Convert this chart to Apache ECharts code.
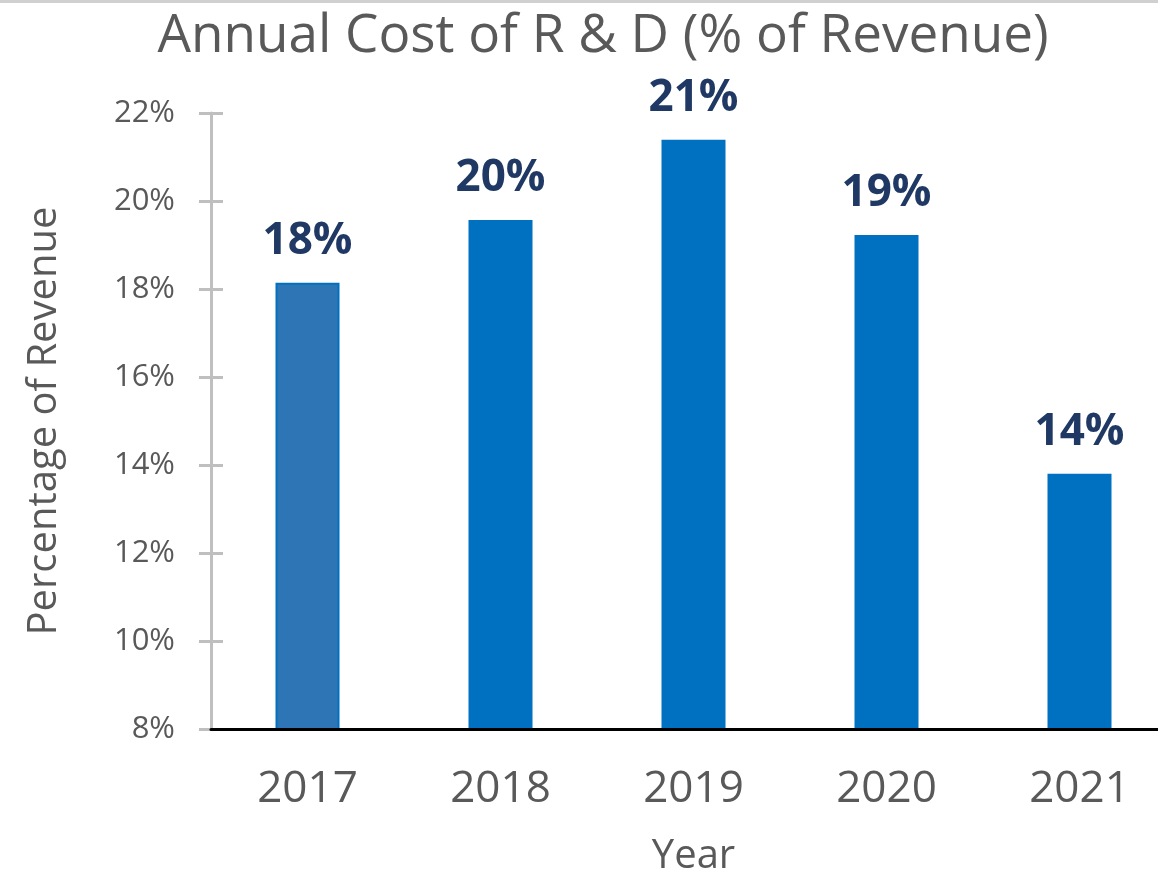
<!DOCTYPE html>
<html>
<head>
<meta charset="utf-8">
<title>Annual Cost of R & D</title>
<style>
  html, body { margin: 0; padding: 0; background: #fff; }
  #chart { width: 1158px; height: 873px; }
</style>
</head>
<body>
<div id="chart"></div>
<script src="https://cdn.jsdelivr.net/npm/echarts@6/dist/echarts.min.js"></script>
<script>
// data
var years = ['2017', '2018', '2019', '2020', '2021'];
var rdShare = [18.14, 19.57, 21.39, 19.23, 13.8];
var barColors = ['#2E75B6', '#0070C0', '#0070C0', '#0070C0', '#0070C0'];

var font = '"Open Sans", "Noto Sans", sans-serif';
var grey = '#595959';

var chart = echarts.init(document.getElementById('chart'));

var option = {
    animation: false,
    textStyle: { fontFamily: font },
    title: {
        text: 'Annual Cost of R & D (% of Revenue)',
        left: 598,
        textAlign: 'center',
        top: 5,
        textStyle: { fontFamily: font, fontSize: 53, fontWeight: 'normal', color: grey }
    },
    grid: { left: 211, top: 113, width: 965, bottom: 144, containLabel: false, outerBoundsMode: 'none' },
    xAxis: {
        type: 'category',
        data: years,
        z: 5,
        name: 'Year',
        nameLocation: 'middle',
        nameGap: 108,
        nameTextStyle: { fontFamily: font, fontSize: 40, color: grey },
        axisLine: { lineStyle: { color: '#000', width: 3 } },
        axisTick: { show: false },
        axisLabel: { fontFamily: font, fontSize: 44, color: grey, margin: 38 }
    },
    yAxis: [{
        type: 'value',
        min: 8,
        max: 22,
        interval: 2,
        name: 'Percentage of Revenue',
        nameLocation: 'middle',
        nameGap: 146,
        nameTextStyle: { fontFamily: font, fontSize: 40, color: grey },
        axisLine: { show: true, lineStyle: { color: '#BFBFBF', width: 3 } },
        axisTick: { show: true, length: 12, lineStyle: { color: '#BFBFBF', width: 3 } },
        splitLine: { show: false },
        axisLabel: {
            fontFamily: font, fontSize: 31, color: grey, margin: 36,
            formatter: function (v) { return v + '%'; }
        }
    }, {
        // second copy only to draw the inner half of the ticks
        type: 'value',
        min: 8,
        max: 22,
        interval: 2,
        position: 'left',
        axisLine: { show: false },
        axisTick: { show: true, inside: true, length: 12, lineStyle: { color: '#BFBFBF', width: 3 } },
        axisLabel: { show: false },
        splitLine: { show: false }
    }],
    series: [{
        type: 'bar',
        data: rdShare.map(function (v, i) {
            return {
                value: v,
                itemStyle: { color: barColors[i], borderColor: '#0070C0', borderWidth: i === 0 ? 2 : 0 }
            };
        }),
        barWidth: 64,
        label: {
            show: true,
            position: 'top',
            distance: 19,
            fontFamily: font,
            fontSize: 44,
            fontWeight: 'bold',
            color: '#1F3864',
            formatter: function (p) { return Math.round(p.value) + '%'; }
        }
    }],
    graphic: [{
        type: 'rect',
        shape: { x: 0, y: 0, width: 1158, height: 3 },
        style: { fill: '#D0D0D0' }
    }]
};

chart.setOption(option);
</script>
</body>
</html>
